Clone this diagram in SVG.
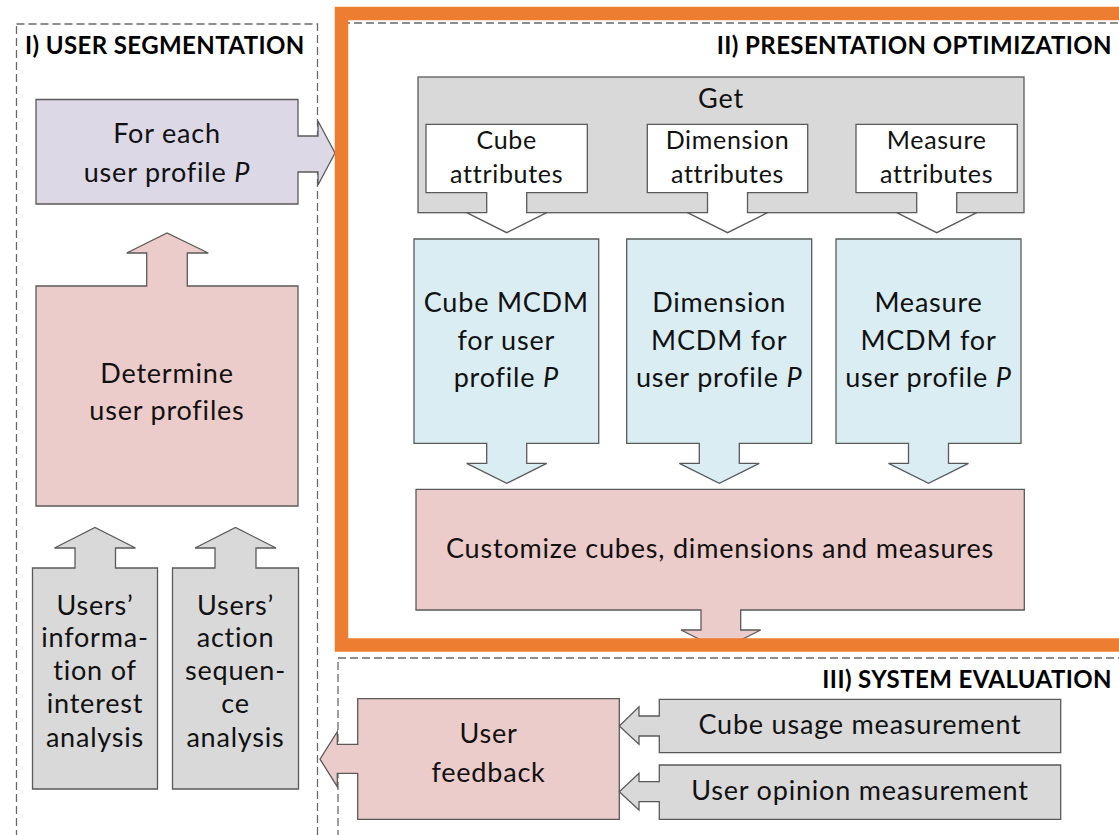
<svg xmlns="http://www.w3.org/2000/svg" width="1119" height="835" viewBox="0 0 1119 835">
  <defs>
    <style>
      .shape { stroke: #5a5a5a; stroke-width: 1.3; stroke-linejoin: miter; }
      .purple { fill: #dcd8e6; }
      .pink { fill: #ecccca; }
      .blue { fill: #daedf3; }
      .gray { fill: #d9d9d9; }
      .white { fill: #ffffff; }
      .frame { fill: none; stroke: #6a6a6a; stroke-width: 1.3; stroke-dasharray: 8 4; }
      .t { font-family: Lato, "Liberation Sans", sans-serif; font-size: 27px; letter-spacing: 0.8px; fill: #111; text-anchor: middle; }
      .ts { font-family: Lato, "Liberation Sans", sans-serif; font-size: 25px; letter-spacing: 0.7px; fill: #111; text-anchor: middle; }
      .title { font-family: Lato, "Liberation Sans", sans-serif; font-size: 24px; letter-spacing: 0.4px; font-weight: bold; fill: #000; }
      .it { font-style: italic; }
    </style>
  </defs>
  <rect width="1119" height="835" fill="#ffffff"/>

  <g id="sections">
    <rect class="frame" x="16.5" y="24" width="301" height="850"/>
    <rect class="frame" x="342" y="23" width="900" height="621"/>
    <rect class="frame" x="338" y="658" width="900" height="300"/>
    <text class="title" x="25" y="54">I) USER SEGMENTATION</text>
    <text class="title" x="1112" y="54" text-anchor="end">II) PRESENTATION OPTIMIZATION</text>
    <text class="title" x="1112" y="688" text-anchor="end">III) SYSTEM EVALUATION</text>
  </g>

  <g id="connectors"></g>

  <g id="for-each">
    <path class="shape purple" d="M36,99.5 H298 V136 H318 V121 L335,153 L318,185 V172 H298 V204 H36 Z"/>
    <text class="t" x="167" y="143">For each</text>
    <text class="t" x="167" y="181.5">user profile <tspan class="it">P</tspan></text>
  </g>

  <g id="determine">
    <path class="shape pink" d="M36,286 H146.7 V253 H126.7 L167,233 L208.3,253 H187.3 V286 H298 V506 H36 Z"/>
    <text class="t" x="167" y="383">Determine</text>
    <text class="t" x="167" y="420">user profiles</text>
  </g>

  <g id="users-info">
    <path class="shape gray" d="M32.5,568 H75 V548 H54.5 L95,527.5 L135.5,548 H115.5 V568 H157.5 V789 H32.5 Z"/>
    <text class="t" x="95" y="615">Users’</text>
    <text class="t" x="95" y="647">informa-</text>
    <text class="t" x="95" y="680">tion of</text>
    <text class="t" x="95" y="713">interest</text>
    <text class="t" x="95" y="747">analysis</text>
  </g>

  <g id="users-action">
    <path class="shape gray" d="M172.5,568 H215 V548 H195 L235.5,527.5 L276,548 H256 V568 H298.5 V789 H172.5 Z"/>
    <text class="t" x="235.5" y="615">Users’</text>
    <text class="t" x="235.5" y="647">action</text>
    <text class="t" x="235.5" y="680">sequen-</text>
    <text class="t" x="235.5" y="713">ce</text>
    <text class="t" x="235.5" y="747">analysis</text>
  </g>

  <g id="get">
    <rect class="shape gray" x="418" y="77" width="606" height="135.7"/>
    <text class="t" x="721" y="108">Get</text>
  </g>

  <g id="cube-attributes">
    <path class="shape white" d="M426,124.3 H587.3 V192.7 H526.7 V212.7 H546.7 L506.7,232.7 L466.7,212.7 H486.7 V192.7 H426 Z"/>
    <text class="ts" x="506.7" y="149">Cube</text>
    <text class="ts" x="506.7" y="182.7">attributes</text>
  </g>

  <g id="dimension-attributes">
    <path class="shape white" d="M647.3,124.3 H807.7 V192.7 H747.5 V212.7 H767.5 L727.5,232.7 L687.5,212.7 H707.5 V192.7 H647.3 Z"/>
    <text class="ts" x="727.5" y="149">Dimension</text>
    <text class="ts" x="727.5" y="182.7">attributes</text>
  </g>

  <g id="measure-attributes">
    <path class="shape white" d="M856,124.3 H1017.3 V192.7 H956.7 V212.7 H976.7 L936.7,232.7 L896.7,212.7 H916.7 V192.7 H856 Z"/>
    <text class="ts" x="936.7" y="149">Measure</text>
    <text class="ts" x="936.7" y="182.7">attributes</text>
  </g>

  <g id="cube-mcdm">
    <path class="shape blue" d="M414,239 H598.7 V443.3 H526.7 V463.3 H546.7 L506.7,483.3 L466.7,463.3 H486.7 V443.3 H414 Z"/>
    <text class="t" x="506.3" y="311.7">Cube MCDM</text>
    <text class="t" x="506.3" y="350">for user</text>
    <text class="t" x="506.3" y="387.3">profile <tspan class="it">P</tspan></text>
  </g>

  <g id="dimension-mcdm">
    <path class="shape blue" d="M626.7,239 H811.7 V443.3 H739.3 V463.3 H759.3 L719.3,483.3 L679.3,463.3 H699.3 V443.3 H626.7 Z"/>
    <text class="t" x="719.2" y="311.7">Dimension</text>
    <text class="t" x="719.2" y="350">MCDM for</text>
    <text class="t" x="719.2" y="387.3">user profile <tspan class="it">P</tspan></text>
  </g>

  <g id="measure-mcdm">
    <path class="shape blue" d="M836,239 H1021 V443.3 H948.5 V463.3 H968.5 L928.5,483.3 L888.5,463.3 H908.5 V443.3 H836 Z"/>
    <text class="t" x="928.5" y="311.7">Measure</text>
    <text class="t" x="928.5" y="350">MCDM for</text>
    <text class="t" x="928.5" y="387.3">user profile <tspan class="it">P</tspan></text>
  </g>

  <g id="customize">
    <path class="shape pink" d="M416,489.3 H1024.3 V610 H740.7 V630 H760.7 L720.8,650 L681,630 H701 V610 H416 Z"/>
    <text class="t" x="720" y="558">Customize cubes, dimensions and measures</text>
  </g>

  <g id="orange-frame">
    <rect x="341.5" y="13.5" width="900" height="631.5" fill="none" stroke="#ed7d31" stroke-width="13.5"/>
  </g>

  <g id="user-feedback">
    <path class="shape pink" d="M357.7,698.7 H619.3 V819.3 H357.7 V773.3 H337.3 V786.7 L320,759.2 L337.3,731.7 V744.3 H357.7 Z"/>
    <text class="t" x="488.5" y="743.3">User</text>
    <text class="t" x="488.5" y="781.7">feedback</text>
  </g>

  <g id="cube-usage">
    <path class="shape gray" d="M659.3,699.3 H1060.7 V752.7 H659.3 V736 H639 V744.3 L619.3,726 L639,706.7 V716 H659.3 Z"/>
    <text class="t" x="860" y="734">Cube usage measurement</text>
  </g>

  <g id="user-opinion">
    <path class="shape gray" d="M659.3,765 H1060.7 V819.3 H659.3 V801.7 H639 V810 L619.3,791.7 L639,773.3 V781.7 H659.3 Z"/>
    <text class="t" x="860" y="800">User opinion measurement</text>
  </g>
</svg>
